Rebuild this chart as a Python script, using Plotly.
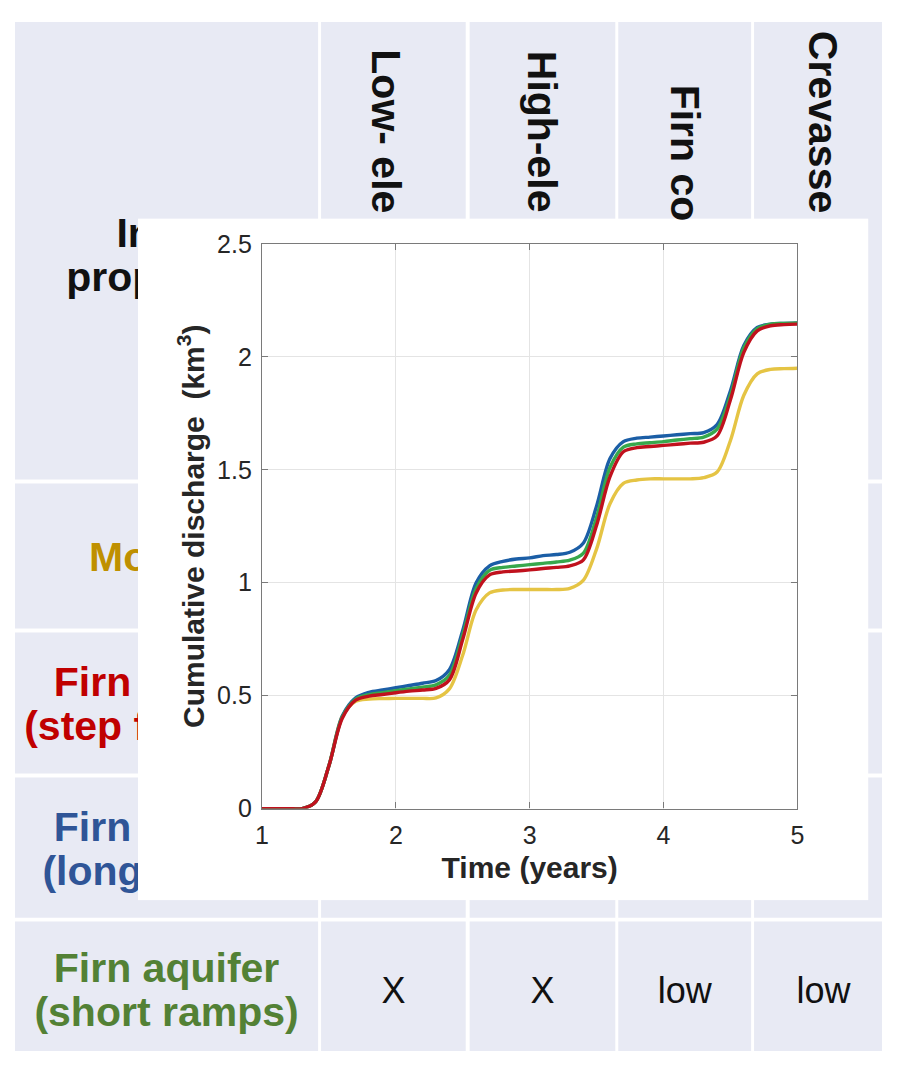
import plotly.graph_objects as go

# page margin of the html body; the figure is shrunk so the page does not overflow
OFF = 8
W, H = 897 - 2 * OFF, 1073 - 2 * OFF
FONT = "Liberation Sans, Arial, sans-serif"

# ---- chart data ----
time_years = [1.0, 1.1, 1.2, 1.3, 1.4, 1.5, 1.6, 1.7, 1.8, 1.9,
              2.0, 2.1, 2.2, 2.3, 2.4, 2.5, 2.6, 2.7, 2.8, 2.9,
              3.0, 3.1, 3.2, 3.3, 3.4, 3.5, 3.6, 3.7, 3.8, 3.9,
              4.0, 4.1, 4.2, 4.3, 4.4, 4.5, 4.6, 4.7, 4.8, 4.9, 5.0]

moulins = [0, 0, 0, 0.0, 0.03, 0.19, 0.41, 0.475, 0.485, 0.487,
           0.488, 0.488, 0.488, 0.49, 0.53, 0.68, 0.88, 0.955, 0.968, 0.97,
           0.97, 0.97, 0.97, 0.975, 1.01, 1.15, 1.35, 1.44, 1.455, 1.46,
           1.46, 1.46, 1.46, 1.465, 1.49, 1.63, 1.83, 1.925, 1.945, 1.948, 1.95]

long_ramps = [0, 0, 0, 0.0, 0.03, 0.19, 0.41, 0.49, 0.515, 0.525,
              0.535, 0.545, 0.555, 0.567, 0.615, 0.79, 1.0, 1.075, 1.095, 1.105,
              1.11, 1.12, 1.125, 1.135, 1.175, 1.34, 1.55, 1.625, 1.64, 1.645,
              1.65, 1.655, 1.66, 1.665, 1.70, 1.85, 2.05, 2.13, 2.145, 2.148, 2.15]

short_ramps = [0, 0, 0, 0.0, 0.03, 0.19, 0.405, 0.485, 0.505, 0.513,
               0.522, 0.53, 0.538, 0.548, 0.59, 0.77, 0.975, 1.055, 1.068, 1.074,
               1.08, 1.086, 1.092, 1.10, 1.13, 1.29, 1.51, 1.60, 1.615, 1.62,
               1.625, 1.632, 1.638, 1.645, 1.68, 1.83, 2.04, 2.125, 2.145, 2.148, 2.15]

step_fn = [0, 0, 0, 0.0, 0.03, 0.19, 0.40, 0.48, 0.498, 0.505,
           0.513, 0.52, 0.525, 0.532, 0.57, 0.75, 0.955, 1.035, 1.048, 1.052,
           1.057, 1.063, 1.068, 1.075, 1.10, 1.255, 1.47, 1.58, 1.598, 1.603,
           1.608, 1.613, 1.618, 1.622, 1.65, 1.81, 2.02, 2.115, 2.138, 2.143, 2.145]

series_names = ["Moulins", "Firn aquifer (long ramps)", "Firn aquifer (short ramps)",
                "Firn aquifer (step function)"]
series_values = [moulins, long_ramps, short_ramps, step_fn]
series_colors = ["#E5C444", "#1B5EA6", "#37A84C", "#C0111D"]

# ---- table behind the chart ----
header_left = ["Input", "properties"]
col_headers = ["Low- ele", "High-ele", "Firn co", "Crevasse"]
row_labels = [["Moulins"],
              ["Firn aquifer", "(step function)"],
              ["Firn aquifer", "(long ramps)"],
              ["Firn aquifer", "(short ramps)"]]
row_colors = ["#BF9000", "#C00000", "#2F5597", "#538135"]
last_row_values = ["X", "X", "low", "low"]

# page-pixel geometry of the table and of the inserted chart
col_edges = [(8, 316), (319, 466), (470, 618), (621, 756), (759, 900)]
row_edges = [(4, 478), (482, 631), (635, 780), (784, 928), (932, 1070)]
cell_bg = "#E8EAF4"
box_x, box_y = (133, 875), (210, 910)
plot_x, plot_y = (259, 803), (236, 816)
LINE_GAP = 45   # distance between the two lines of a label
TEXT_DROP = 5   # scatter text sits a little high when centred


def centre(edge):
    return (edge[0] + edge[1]) / 2


def xdom(a, b):
    return [(a - OFF) / W, (b - OFF) / W]


def ydom(top, bottom):
    return [1 - (bottom - OFF) / H, 1 - (top - OFF) / H]


fig = go.Figure()

shapes = []
for c in col_edges:
    for r in row_edges:
        shapes.append(dict(type="rect", xref="x", yref="y", x0=c[0], x1=c[1], y0=r[0], y1=r[1],
                           fillcolor=cell_bg, line=dict(width=0), layer="below"))

# table text (as traces so the chart box covers it)
tx, ty, tt, tc = [], [], [], []
cx0 = centre(col_edges[0])
for k, line in enumerate(header_left):
    tx.append(cx0)
    ty.append(centre(row_edges[0]) + 5 + TEXT_DROP + (k - (len(header_left) - 1) / 2) * LINE_GAP)
    tt.append(line)
    tc.append("#111111")
for i, lines in enumerate(row_labels):
    cy = centre(row_edges[i + 1]) + TEXT_DROP
    for k, line in enumerate(lines):
        tx.append(cx0)
        ty.append(cy + (k - (len(lines) - 1) / 2) * LINE_GAP)
        tt.append(line)
        tc.append(row_colors[i])

fig.add_trace(go.Scatter(
    x=tx, y=ty, text=tt, mode="text", textposition="middle center",
    textfont=dict(family=FONT, size=41, color=tc, weight="bold"),
    hoverinfo="skip", showlegend=False, xaxis="x", yaxis="y", cliponaxis=False))

fig.add_trace(go.Scatter(
    x=[centre(c) for c in col_edges[1:]],
    y=[centre(row_edges[-1]) + TEXT_DROP] * 4,
    text=last_row_values, mode="text", textposition="middle center",
    textfont=dict(family=FONT, size=36, color="#111111"),
    hoverinfo="skip", showlegend=False, xaxis="x", yaxis="y", cliponaxis=False))

# white box of the inserted chart
fig.add_trace(go.Scatter(x=[0.5], y=[0.5], mode="markers", marker=dict(opacity=0),
                         hoverinfo="skip", showlegend=False, xaxis="x2", yaxis="y2"))

# chart curves
for name, vals, col in zip(series_names, series_values, series_colors):
    fig.add_trace(go.Scatter(
        x=time_years, y=vals, name=name, mode="lines",
        line=dict(color=col, width=3.4, shape="spline", smoothing=0.9),
        xaxis="x3", yaxis="y3", showlegend=False))

annotations = []
header_tops = [34, 35, 70, 15]
header_x = [385, 543, 689, 829]
for i, txt in enumerate(col_headers):
    annotations.append(dict(
        x=header_x[i], y=header_tops[i], xref="x", yref="y",
        text=txt, textangle=90, showarrow=False, xanchor="center", yanchor="top",
        font=dict(family=FONT, size=41, color="#111111", weight="bold")))

axis_grey = "#7a7a7a"
tick_font = dict(size=25, color="#262626")
fig.update_layout(
    width=W, height=H,
    margin=dict(l=0, r=0, t=0, b=0),
    paper_bgcolor="white", plot_bgcolor="white",
    showlegend=False,
    shapes=shapes,
    annotations=annotations,
    font=dict(family=FONT, color="#262626"),
    xaxis=dict(domain=[0, 1], range=[OFF, OFF + W], visible=False, fixedrange=True),
    yaxis=dict(domain=[0, 1], range=[OFF + H, OFF], visible=False, fixedrange=True),
    xaxis2=dict(domain=xdom(*box_x), range=[0, 1], visible=False, anchor="y2"),
    yaxis2=dict(domain=ydom(*box_y), range=[0, 1], visible=False, anchor="x2"),
    xaxis3=dict(
        domain=xdom(*plot_x), range=[1, 5], anchor="y3",
        tickvals=[1, 2, 3, 4, 5], ticks="inside", ticklen=6, tickcolor=axis_grey,
        showline=True, linecolor=axis_grey, linewidth=1.3, mirror="ticks",
        showgrid=True, gridcolor="#e4e4e4", gridwidth=1, zeroline=False,
        tickfont=tick_font, ticklabelstandoff=4,
        title=dict(text="<b>Time (years)</b>", font=dict(size=30, color="#262626"), standoff=9),
    ),
    yaxis3=dict(
        domain=ydom(*plot_y), range=[0, 2.5], anchor="x3",
        tickvals=[0, 0.5, 1, 1.5, 2, 2.5], ticks="inside", ticklen=6, tickcolor=axis_grey,
        showline=True, linecolor=axis_grey, linewidth=1.3, mirror="ticks",
        showgrid=True, gridcolor="#e4e4e4", gridwidth=1, zeroline=False,
        tickfont=tick_font, ticklabelstandoff=4,
        title=dict(text="<b>Cumulative discharge  (km<sup>3</sup>)</b>",
                   font=dict(size=30, color="#262626"), standoff=3),
    ),
)

fig.write_html("out.html")
